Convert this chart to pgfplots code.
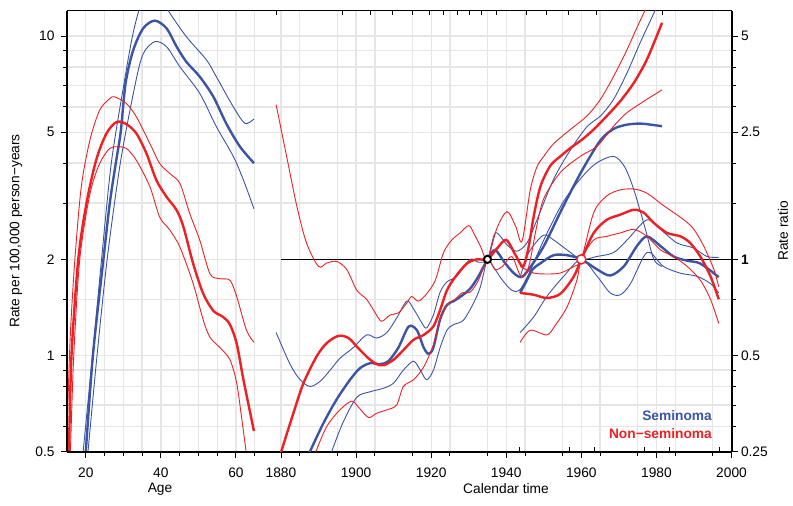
\documentclass[border=0pt]{standalone}
\usepackage{fontspec}
\setmainfont{Liberation Sans}
\usepackage{pgfplots}
\pgfplotsset{compat=1.18}

\definecolor{semblue}{RGB}{59,84,166}
\definecolor{nonred}{RGB}{237,32,36}
\definecolor{gridgray}{RGB}{230,230,230}
\newcommand{\fs}{\fontsize{13.8}{16}\selectfont}

\pgfplotsset{
  apcbase/.style={
    at={(67bp,54.3bp)}, anchor=south west,
    width=664.5bp, height=441bp, scale only axis,
    tick align=outside,
    major tick length=6bp, minor tick length=4bp,
    tick style={black, line width=0.9bp},
    /pgf/number format/assume math mode=true,
    /pgf/number format/1000 sep={},
    ticklabel style={font=\fs},
    xticklabel style={yshift=-7bp},
    grid style={gridgray, line width=1.3bp},
    minor grid style={gridgray, line width=1.3bp},
  },
  rug/.style={
    at={(67bp,54.3bp)}, anchor=south west,
    width=664.5bp, height=441bp, scale only axis,
    xmin=1823, xmax=2000, ymin=0, ymax=1,
    hide y axis, x axis line style={draw=none},
    xticklabels={}, tick align=inside,
    tick style={black, line width=0.9bp},
  },
  ci/.style={line width=0.9bp, smooth},
  est/.style={line width=2.4bp, smooth},
}

\begin{document}
\begin{tikzpicture}
\useasboundingbox (0,0) rectangle (793bp,506bp);

% age effects, rates per 100,000
\begin{axis}[apcbase, name=age,
  ymode=log,
  xmin=15, xmax=192, ymin=0.5, ymax=12,
  axis line style={line width=0.8bp},
  tick pos=left,
  yticklabel style={xshift=-3bp},
  xtick={20,40,60}, xticklabels={20,40,60},
  minor xtick={25,30,35,45,50,55,65},
  ytick={0.5,1,2,5,10}, yticklabels={0.5,1,2,5,10},
  minor ytick={0.6,0.7,0.8,0.9,1.5,3,4,6,7,8,9},
  grid=both,
]
% seminoma
\addplot[semblue, ci] coordinates {
  (18.8,0.42) (19.3,0.5) (21.8,1.0) (24.2,2.0) (26.8,4.0) (30.1,7.0) (32.6,10.2)
  (35.0,12.8) (38.0,13.8) (41.0,12.9) (42.0,12.0) (46.8,9.95) (52.2,8.4)
  (54.8,7.45) (59.3,6.0) (62.4,5.33) (64.8,5.5)
};
\addplot[semblue, est] coordinates {
  (19.5,0.42) (20.0,0.5) (21.9,1.0) (24.7,2.0) (26.4,3.0) (28.0,4.0) (29.3,5.0)
  (30.6,7.1) (32.6,9.0) (35.3,10.57) (38.4,11.17) (41.5,10.57) (44.2,9.26)
  (46.8,8.3) (50.4,7.45) (54.0,6.45) (57.5,5.3) (61.1,4.5) (64.8,4.0)
};
\addplot[semblue, ci] coordinates {
  (20.1,0.42) (20.6,0.5) (23.0,1.0) (25.7,2.0) (29.2,4.0) (33.1,7.0) (35.3,8.8)
  (38.4,9.6) (41.5,9.26) (45.1,8.0) (50.4,6.6) (54.8,5.2) (59.3,4.2)
  (62.0,3.54) (64.8,2.88)
};
% non-seminoma
\addplot[nonred, ci] coordinates {
  (14.6,0.5) (15.1,0.64) (15.9,1.17) (17.1,2.0) (18.8,3.37) (21.1,4.72) (23.7,5.86)
  (26.4,6.37) (27.7,6.45) (30.8,6.15) (33.5,5.58) (37.1,4.6) (39.7,3.99)
  (42.4,3.71) (45.1,3.45) (47.7,2.78) (50.4,2.29) (53.1,1.8) (55.7,1.74)
  (58.4,1.72) (60.2,1.53) (62.8,1.2) (64.8,1.1)
};
\addplot[nonred, est] coordinates {
  (15.2,0.42) (15.5,0.5) (16.2,1.0) (18.0,2.0) (20.2,3.0) (22.8,4.1) (25.5,4.95)
  (28.2,5.38) (30.8,5.3) (33.5,4.95) (36.2,4.28) (38.8,3.54) (41.5,3.14)
  (44.2,2.85) (46.0,2.53) (48.6,1.94) (51.3,1.56) (54.0,1.38) (56.6,1.32)
  (58.4,1.25) (60.2,1.09) (62.0,0.84) (64.8,0.58)
};
\addplot[nonred, ci] coordinates {
  (15.6,0.42) (15.9,0.5) (16.8,1.0) (18.4,2.0) (21.1,3.2) (23.7,3.99) (26.4,4.45)
  (28.6,4.5) (30.8,4.45) (33.5,4.08) (37.1,3.37) (39.7,2.71) (42.4,2.47)
  (45.1,2.18) (48.6,1.68) (51.3,1.29) (53.1,1.14) (55.7,1.06) (58.4,0.97)
  (60.2,0.82) (61.5,0.64) (62.7,0.5) (63.0,0.45)
};
\end{axis}
\draw[line width=2bp] (age.north west) -- (age.south west);

% period and cohort effects, rate ratios
\begin{axis}[apcbase,
  ymode=log,
  xmin=1823, xmax=2000, ymin=0.25, ymax=6,
  axis x line*=bottom, axis y line*=right,
  axis line style={line width=2bp},
  xtick={1880,1900,...,2000},
  minor xtick={1885,1895,...,1995},
  ytick={0.25,0.5,1,2.5,5}, yticklabels={0.25,0.5,\textbf{1},2.5,5},
  minor ytick={0.3,0.35,0.4,0.45,0.75,1.5,2,3,3.5,4,4.5},
  xmajorgrids, xminorgrids,
]
\addplot[black, line width=0.9bp] coordinates {(1880,1) (2000,1)};

% seminoma, cohort
\addplot[semblue, ci] coordinates {
  (1878.7,0.59) (1882.4,0.47) (1885.1,0.42) (1887.7,0.40) (1890.4,0.415)
  (1893.1,0.45) (1895.7,0.49) (1899.3,0.53) (1902.8,0.58) (1905.5,0.567)
  (1908.2,0.59) (1910.8,0.655) (1913.5,0.74) (1915.3,0.7) (1917.6,0.63)
  (1918.8,0.61) (1920.6,0.67) (1922.4,0.79) (1924.2,0.85) (1926.8,0.885)
  (1930.4,1.0) (1932.5,0.98) (1935,1) (1937.1,1.21) (1940.2,1.11)
  (1942.8,1.06) (1945.5,1.125) (1948.2,1.33) (1952.6,1.78) (1957.1,2.2)
  (1961.5,2.6) (1965.1,2.81) (1968.6,3.17) (1972.2,3.84) (1975.7,4.77)
  (1979.6,6.0) (1981.5,6.8)
};
\addplot[semblue, est] coordinates {
  (1886.5,0.23) (1887.7,0.25) (1891.3,0.307) (1894.8,0.364) (1898.4,0.42)
  (1901,0.456) (1903.7,0.473) (1906.4,0.47) (1908.6,0.48) (1911.3,0.53)
  (1914,0.616) (1916.2,0.6) (1918,0.53) (1919.3,0.506) (1920.6,0.53)
  (1922.4,0.65) (1924.2,0.72) (1926,0.74) (1928.2,0.77) (1930.4,0.81)
  (1932.6,0.885) (1935,1) (1937,1.07) (1939.5,0.98) (1942,0.905)
  (1944,0.88) (1946,0.93) (1950,1.1) (1955,1.45) (1960,1.88) (1965,2.35)
  (1968.6,2.56) (1972.2,2.64) (1975.7,2.66) (1978.4,2.64) (1981.5,2.61)
};
\addplot[semblue, ci] coordinates {
  (1892.8,0.23) (1893.5,0.25) (1896.6,0.31) (1900.2,0.37) (1903.7,0.385)
  (1907.3,0.395) (1910,0.41) (1912.6,0.45) (1915.3,0.48) (1917.1,0.45)
  (1918.8,0.42) (1920.6,0.45) (1922.4,0.53) (1924.2,0.6) (1926,0.625)
  (1928.6,0.645) (1931.3,0.73) (1933.1,0.82) (1935,1) (1936.5,0.95)
  (1939,0.86) (1941.5,0.8) (1943.5,0.8) (1946,0.9) (1950,1.15) (1955,1.5)
  (1960,1.8) (1964,2.0) (1968.6,2.1) (1971.5,1.95) (1974,1.65) (1977,1.25)
  (1979.3,1.0) (1981.5,0.95)
};
% seminoma, period
\addplot[semblue, ci] coordinates {
  (1943.7,0.88) (1946,1.05) (1949.9,1.19) (1952.6,1.15) (1956.2,1.07) (1960,1)
  (1964,1.02) (1968.6,1.05) (1972.2,1.15) (1977.5,1.33) (1981.1,1.24)
  (1985.5,1.125) (1989.9,1.085) (1993.5,1.02) (1996.6,1.015)
};
\addplot[semblue, est] coordinates {
  (1943.7,0.785) (1945.5,0.86) (1947,0.93) (1949,0.97) (1952.6,1.03)
  (1956.2,1.03) (1960,1) (1964.2,0.93) (1967.7,0.89) (1971.3,0.95)
  (1974.8,1.1) (1977.5,1.18) (1981.1,1.1) (1984.6,1.02) (1988.2,0.99)
  (1991.7,0.97) (1996.6,0.88)
};
\addplot[semblue, ci] coordinates {
  (1943.7,0.59) (1947.3,0.66) (1950.8,0.765) (1955.3,0.885) (1960,1)
  (1964.2,0.885) (1967.7,0.785) (1970.4,0.775) (1973.1,0.84) (1976.6,1.02)
  (1978.4,1.05) (1981.9,0.95) (1986.4,0.905) (1990.8,0.885) (1994.4,0.84)
  (1996.6,0.785)
};

% non-seminoma, cohort
\addplot[nonred, ci] coordinates {
  (1878.7,3.05) (1881.5,2.1) (1884.2,1.47) (1886.8,1.125) (1890,0.95)
  (1892.2,0.974) (1894.8,0.985) (1897.5,0.93) (1900.2,0.80) (1902.8,0.75)
  (1905.1,0.68) (1906.8,0.64) (1909.1,0.67) (1911.3,0.68) (1913.5,0.73)
  (1914.8,0.765) (1916.6,0.74) (1918.8,0.78) (1921.1,0.86) (1923.3,1.05)
  (1925.5,1.15) (1927.7,1.21) (1930,1.275) (1931.3,1.21) (1933.1,1.1)
  (1935,1) (1937.5,1.25) (1940.2,1.41) (1942.5,1.27) (1944.2,1.14)
  (1946.4,1.65) (1948.2,1.95) (1950,2.1) (1952.6,2.3) (1957.1,2.55)
  (1961.5,2.81) (1965.1,3.17) (1968.6,3.74) (1972.2,4.54) (1974.8,5.31)
  (1976.9,6.0) (1981.5,8.0)
};
\addplot[nonred, est] coordinates {
  (1879.5,0.235) (1880.2,0.253) (1883.3,0.33) (1886,0.41) (1889.5,0.497)
  (1892.2,0.547) (1895.3,0.576) (1898,0.567) (1900.6,0.527) (1903.3,0.49)
  (1905.5,0.47) (1907.3,0.466) (1910,0.485) (1912.6,0.52) (1915.3,0.56)
  (1918,0.58) (1920.6,0.617) (1922.4,0.695) (1924.2,0.80) (1926.4,0.88)
  (1929.5,0.97) (1932.2,1.0) (1935,1) (1937.5,1.08) (1940,1.15)
  (1942.5,1.03) (1944.5,0.95) (1946,1.1) (1947.3,1.36) (1949.1,1.69)
  (1951.7,1.96) (1954.4,2.1) (1957.1,2.23) (1960.2,2.37) (1963.3,2.55)
  (1966.8,2.81) (1970.4,3.13) (1974,3.57) (1977.5,4.23) (1981.5,5.5)
};
\addplot[nonred, ci] coordinates {
  (1888.5,0.23) (1889.3,0.25) (1892.2,0.30) (1895.7,0.338) (1898.8,0.36)
  (1900.6,0.345) (1903.3,0.32) (1905.5,0.33) (1908.2,0.338) (1910.8,0.35)
  (1912.6,0.40) (1915.3,0.42) (1918,0.46) (1920.6,0.54) (1922.4,0.65)
  (1924.2,0.72) (1926.4,0.75) (1928.2,0.785) (1930.4,0.79) (1932.6,0.86)
  (1935,1) (1937,0.93) (1939,0.95) (1941.5,1.02) (1944,0.88) (1946,0.95)
  (1948,1.25) (1950,1.55) (1954.4,1.87) (1959.7,2.1) (1964.2,2.26)
  (1968.6,2.61) (1972.2,2.88) (1977.5,3.17) (1981.5,3.39)
};
% non-seminoma, period
\addplot[nonred, ci] coordinates {
  (1943.7,0.95) (1947.3,0.906) (1951,0.9) (1954.4,0.906) (1958,0.95) (1960,1)
  (1963.3,1.4) (1966.8,1.58) (1970.4,1.65) (1974,1.66) (1977.5,1.61)
  (1982,1.47) (1987.3,1.33) (1990,1.24) (1992.6,1.1) (1995.3,0.93)
  (1996.6,0.82)
};
\addplot[nonred, est] coordinates {
  (1943.7,0.785) (1947.3,0.775) (1950.8,0.757) (1954.4,0.78) (1957.9,0.88)
  (1960,1) (1963.3,1.21) (1966.8,1.33) (1970.4,1.38) (1974,1.43)
  (1976.6,1.4) (1979.3,1.3) (1982.8,1.21) (1986.4,1.18) (1989,1.125)
  (1991.7,1.02) (1994.4,0.885) (1996.6,0.75)
};
\addplot[nonred, ci] coordinates {
  (1943.7,0.55) (1946.4,0.6) (1950.8,0.58) (1953,0.62) (1956.2,0.71)
  (1958.8,0.86) (1960,1) (1963.3,1.15) (1966.8,1.18) (1970.4,1.21)
  (1974,1.24) (1977.5,1.18) (1981.1,1.07) (1984.6,1.02) (1988.2,0.95)
  (1991.7,0.86) (1994.4,0.75) (1996.6,0.63)
};

% reference points
\addplot[only marks, mark=*, mark size=3.6bp,
  mark options={fill=white, draw=black, line width=2bp}] coordinates {(1935,1)};
\addplot[only marks, mark=*, mark size=4.6bp,
  mark options={fill=white, draw=nonred, line width=1.4bp}] coordinates {(1960,1)};
\end{axis}

% rug ticks
\begin{axis}[rug, axis x line*=top, major tick length=4bp,
  xtick={1878.7,1896.5,1903.7,1909.6,1915,1919.5,1923.3,1926.9,1930.1,
         1933.5,1937.3,1945.3,1950.6,1956.5,1963.9,1981.5}]
\end{axis}
\begin{axis}[rug, axis x line*=bottom, major tick length=5bp,
  xtick={1943.5,1956.9,1963.5,1976.9,1983.5,1996.8}]
\end{axis}

% labels
\node[font=\fs] at (160bp,17bp) {Age};
\node[font=\fs] at (506bp,17bp) {Calendar time};
\node[font=\fs, rotate=90] at (16bp,275bp) {Rate per 100,000 person−years};
\node[font=\fs, rotate=90] at (783bp,275bp) {Rate ratio};
\node[font=\fs\bfseries, text=semblue, anchor=east, inner sep=0pt] at (712bp,90bp) {Seminoma};
\node[font=\fs\bfseries, text=nonred, anchor=east, inner sep=0pt] at (712bp,72bp) {Non−seminoma};
\end{tikzpicture}
\end{document}
